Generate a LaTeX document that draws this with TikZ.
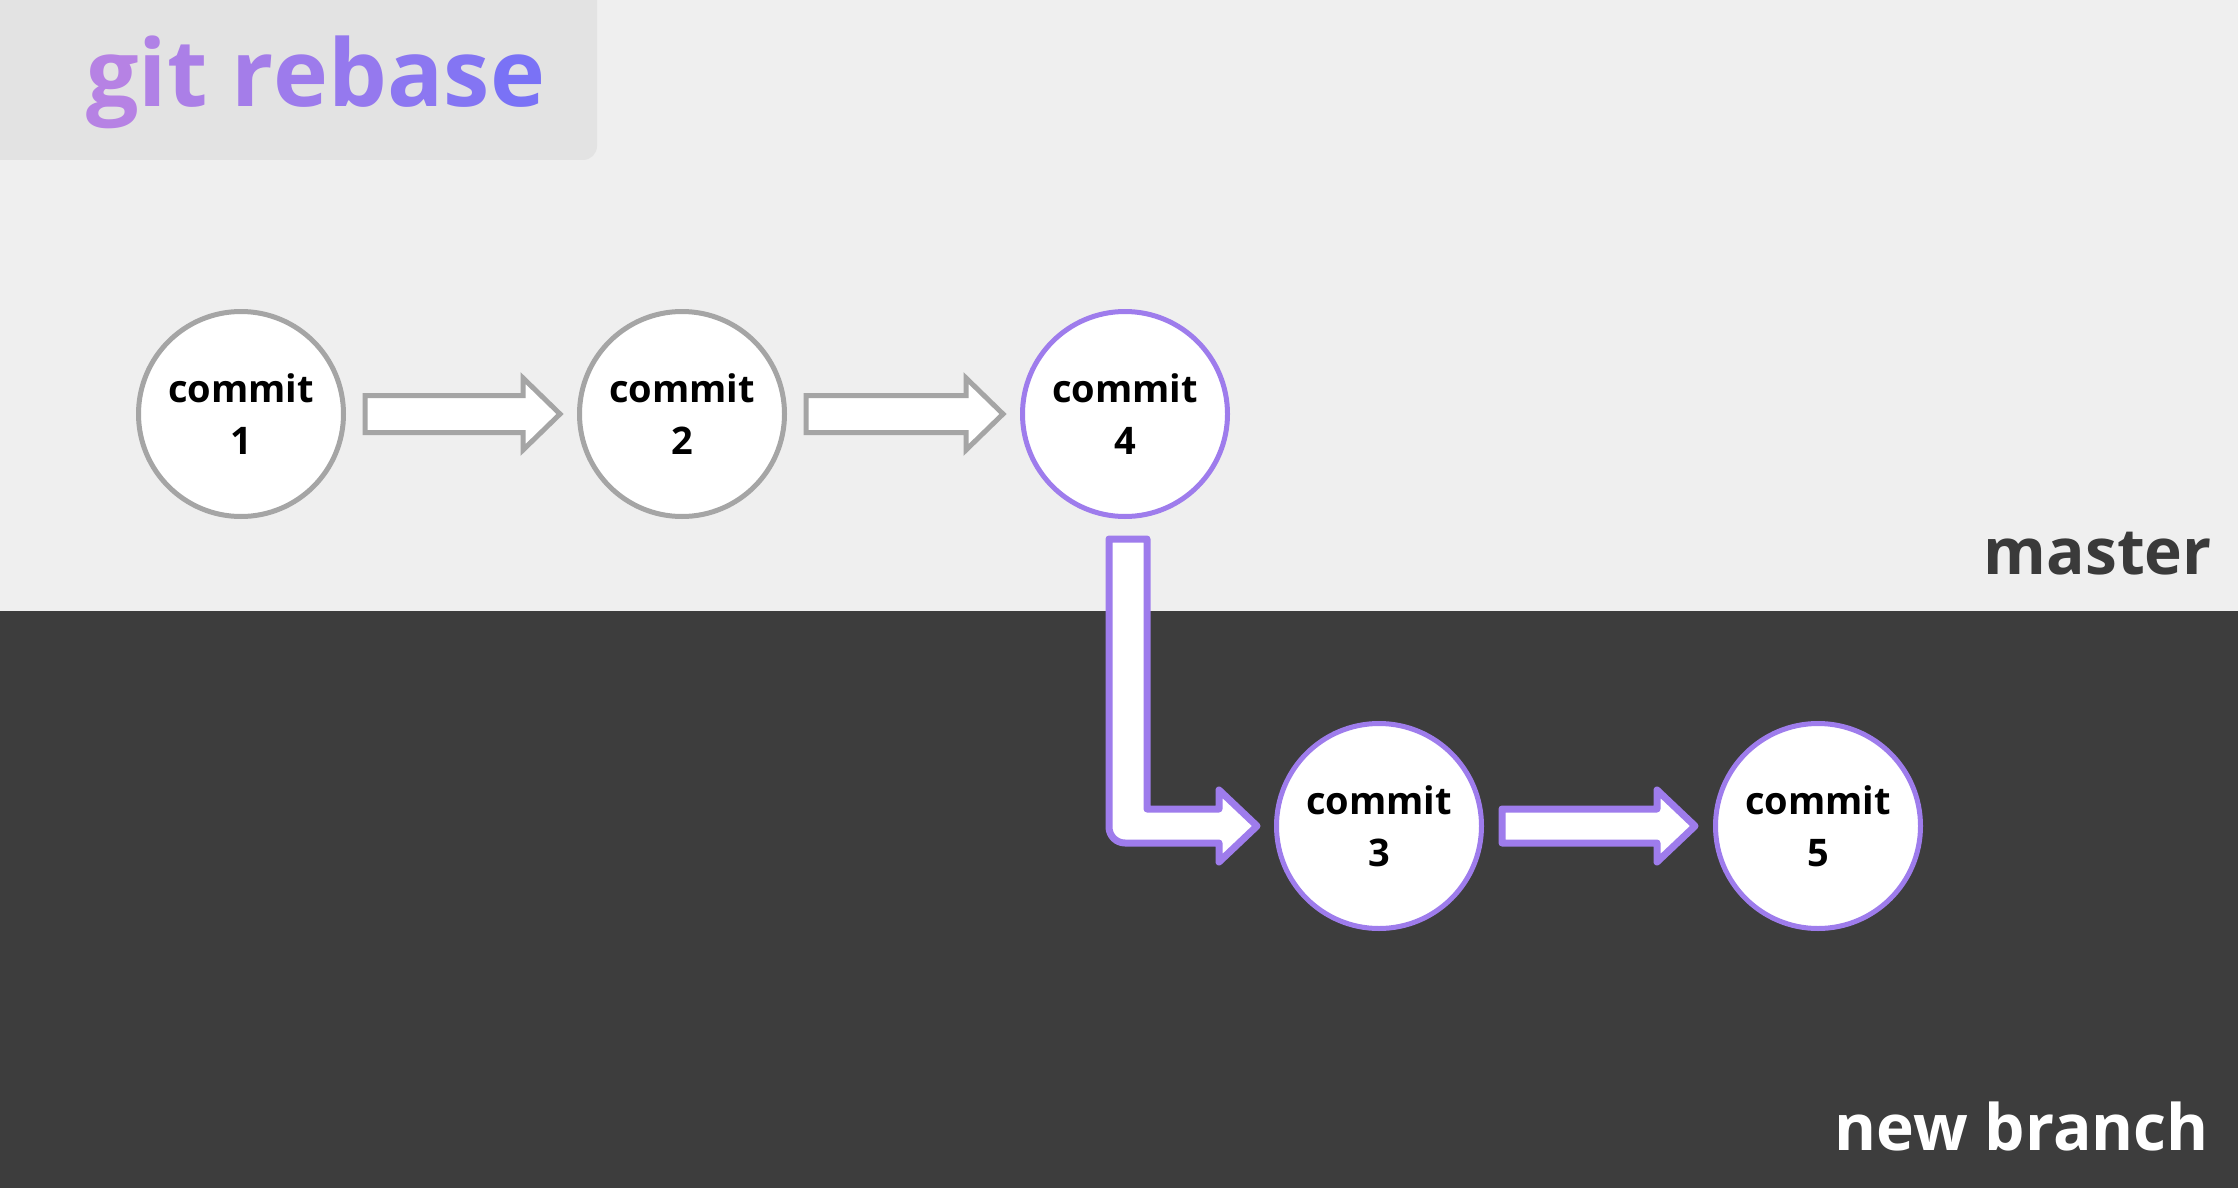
\documentclass[tikz,border=0pt]{standalone}
\usepackage{fontspec}
\setmainfont{Open Sans}
\usetikzlibrary{calc}
\definecolor{topbg}{RGB}{239,239,239}
\definecolor{botbg}{RGB}{61,61,61}
\definecolor{titlebg}{RGB}{227,227,227}
\definecolor{grayline}{RGB}{165,165,165}
\definecolor{purp}{RGB}{158,124,236}
\definecolor{labeldark}{RGB}{58,58,58}
\definecolor{tA}{RGB}{182,130,228}
\definecolor{tB}{RGB}{122,114,246}
\begin{document}
\begin{tikzpicture}[x=1pt,y=-1pt,
  commitnode/.style={circle, fill=white, minimum size=205pt, inner sep=0pt, line width=5pt,
    align=center, font=\bfseries\fontsize{38}{52}\selectfont, text=black},
  graycommit/.style={commitnode, draw=grayline},
  purpcommit/.style={commitnode, draw=purp},
  grayarrow/.style={draw=grayline, fill=white, line width=5pt, line join=miter},
  purparrow/.style={draw=purp, fill=white, line width=7pt, line join=round},
  branchlabel/.style={anchor=base east, inner sep=0pt, font=\bfseries\fontsize{64}{70}\selectfont}
]
\useasboundingbox (0,0) rectangle (2238,1188);
\fill[topbg] (0,0) rectangle (2238,611);
\fill[botbg] (0,611) rectangle (2238,1188);
\fill[titlebg, rounded corners=14pt] (-30,-30) rectangle (597,160);

\node[anchor=base west, inner sep=0pt, font=\bfseries\fontsize{93}{100}\selectfont] (title) at (86,107)
 {\textcolor{tA!100!tB}{g}\textcolor{tA!90!tB}{i}\textcolor{tA!82!tB}{t} \textcolor{tA!70!tB}{r}\textcolor{tA!58!tB}{e}\textcolor{tA!45!tB}{b}\textcolor{tA!30!tB}{a}\textcolor{tA!16!tB}{s}\textcolor{tA!0!tB}{e}};

\node[branchlabel, text=labeldark] (master) at (2212,574) {master};
\node[branchlabel, text=white] (newbranch) at (2209,1150) {new branch};

\node[graycommit] (c1) at (241,414) {commit\\1};
\node[graycommit] (c2) at (682,414) {commit\\2};
\node[purpcommit] (c4) at (1125,414) {commit\\4};
\node[purpcommit] (c3) at (1379,826) {commit\\3};
\node[purpcommit] (c5) at (1818,826) {commit\\5};

% gray arrows
\foreach \a/\b in {c1/c2, c2/c4}{
  \coordinate (s) at ($(\a.east)+(19,0)$);
  \coordinate (e) at ($(\b.west)+(-17,0)$);
  \draw[grayarrow] ($(s)+(0,-18.5)$) -- ($(e)+(-37,-18.5)$) -- ($(e)+(-37,-36)$) -- (e)
     -- ($(e)+(-37,36)$) -- ($(e)+(-37,18.5)$) -- ($(s)+(0,18.5)$) -- cycle;
}

% purple straight arrow c3 -> c5
\coordinate (s3) at ($(c3.east)+(18,0)$);
\coordinate (e3) at ($(c5.west)+(-18,0)$);
\draw[purparrow] ($(s3)+(0,-17)$) -- ($(e3)+(-38,-17)$) -- ($(e3)+(-38,-36)$) -- (e3)
   -- ($(e3)+(-38,36)$) -- ($(e3)+(-38,17)$) -- ($(s3)+(0,17)$) -- cycle;

% purple bent arrow c4 -> c3
\coordinate (top4) at ($(c4.south)+(3,20)$);
\coordinate (tip3) at ($(c3.west)+(-17,0)$);
\coordinate (bend) at (top4 |- tip3);
\draw[purparrow] ($(top4)+(-19,0)$) -- ($(top4)+(19,0)$)
   -- ($(bend)+(19,-17)$)
   -- ($(tip3)+(-38,-17)$) -- ($(tip3)+(-38,-36)$) -- (tip3)
   -- ($(tip3)+(-38,36)$) -- ($(tip3)+(-38,17)$)
   [rounded corners=16pt] -- ($(bend)+(-19,17)$)
   [sharp corners] -- cycle;
\end{tikzpicture}
\end{document}
